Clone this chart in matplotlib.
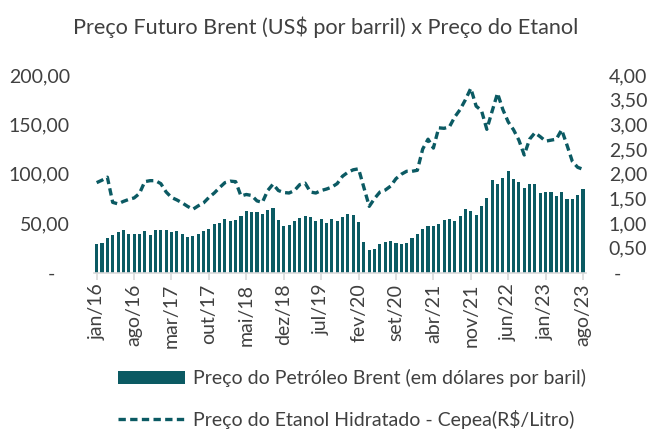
import matplotlib
matplotlib.use("Agg")
import matplotlib.pyplot as plt
from matplotlib.patches import Patch
from matplotlib.lines import Line2D
import numpy as np

plt.rcParams['font.family'] = ['Lato', 'DejaVu Sans']

month_abbr = ["jan", "fev", "mar", "abr", "mai", "jun", "jul", "ago", "set", "out", "nov", "dez"]
months = [f"{month_abbr[m]}/{str(y)[2:]}" for y in range(2016, 2024) for m in range(12)][:92]

brent = [29.3, 30.0, 35.0, 37.7, 41.4, 42.8, 39.4, 39.4, 39.4, 42.4, 38.0, 43.4,
         43.4, 43.4, 41.0, 41.7, 39.4, 36.0, 37.4, 39.4, 42.4, 44.4, 48.8, 50.2,
         54.5, 52.2, 52.9, 57.6, 62.6, 61.6, 61.6, 59.6, 63.6, 65.3, 53.5, 46.8,
         48.5, 51.9, 54.9, 57.6, 56.2, 51.9, 54.2, 50.5, 54.2, 52.5, 55.9, 58.9,
         58.6, 51.5, 31.3, 22.6, 23.6, 29.3, 31.3, 32.3, 29.6, 29.0, 30.3, 35.0,
         38.7, 44.1, 47.5, 47.1, 49.5, 53.5, 54.5, 52.2, 56.9, 64.0, 62.3, 58.6,
         67.0, 75.4, 93.9, 89.9, 96.0, 103.0, 94.9, 91.6, 85.9, 89.9, 89.2, 80.1,
         81.8, 81.1, 77.1, 81.8, 74.1, 74.1, 78.5, 84.8]

etanol = [1.82, 1.87, 1.93, 1.42, 1.39, 1.44, 1.48, 1.51, 1.60, 1.84, 1.86, 1.86,
          1.80, 1.63, 1.52, 1.47, 1.41, 1.34, 1.28, 1.35, 1.41, 1.52, 1.61, 1.72,
          1.82, 1.85, 1.84, 1.55, 1.58, 1.56, 1.45, 1.42, 1.66, 1.79, 1.66, 1.62,
          1.61, 1.66, 1.78, 1.81, 1.63, 1.61, 1.66, 1.69, 1.73, 1.80, 1.95, 2.03,
          2.08, 2.10, 1.72, 1.34, 1.50, 1.63, 1.67, 1.75, 1.90, 1.99, 2.05, 2.05,
          2.07, 2.50, 2.70, 2.52, 2.93, 2.92, 2.95, 3.15, 3.30, 3.50, 3.73, 3.37,
          3.28, 2.90, 3.27, 3.63, 3.30, 3.05, 2.89, 2.68, 2.38, 2.70, 2.83, 2.75,
          2.66, 2.68, 2.70, 2.89, 2.58, 2.25, 2.13, 2.09]

left_ticks = [0, 50, 100, 150, 200]
left_labels = ["-   ", "50,00", "100,00", "150,00", "200,00"]
right_ticks = [0, 0.5, 1.0, 1.5, 2.0, 2.5, 3.0, 3.5, 4.0]
right_labels = [" -", "0,50", "1,00", "1,50", "2,00", "2,50", "3,00", "3,50", "4,00"]

title = "Preço Futuro Brent (US$ por barril) x Preço do Etanol"
label_brent = "Preço do Petróleo Brent (em dólares por baril)"
label_etanol = "Preço do Etanol Hidratado - Cepea(R$/Litro)"

color = "#0b5a63"
text_color = "#404040"
fs = 14

fig = plt.figure(figsize=(6.51, 4.30), dpi=100)
ax = fig.add_axes([94/651, 1-272.5/430, 491.7/651, (272.5-75)/430])
ax2 = ax.twinx()

x = np.arange(len(months))
ax.bar(x, brent, width=0.58, color=color, zorder=2)
dash = (0, (2.2, 1.3))
ax2.plot(x, etanol, color=color, lw=2.4, linestyle=dash, zorder=3)

ax.set_xlim(-0.5, len(months) - 0.5)
ax.set_ylim(0, 200)
ax2.set_ylim(0, 4)

ax.set_yticks(left_ticks)
ax.set_yticklabels(left_labels)
ax2.set_yticks(right_ticks)
ax2.set_yticklabels(right_labels)

tick_pos = list(range(0, len(months), 7))
ax.set_xticks(tick_pos)
ax.set_xticklabels([months[i] for i in tick_pos], rotation=90)

for a in (ax, ax2):
    for s in a.spines.values():
        s.set_visible(False)
ax.spines['bottom'].set_visible(True)
ax.spines['bottom'].set_color("#d9d9d9")
ax.spines['bottom'].set_linewidth(1.2)

ax.tick_params(axis='x', colors="#d9d9d9", length=5, width=1.2, labelcolor=text_color,
               labelsize=fs, pad=3)
ax.tick_params(axis='y', length=0, labelcolor=text_color, labelsize=fs, pad=17.3)
ax2.tick_params(axis='y', length=0, labelcolor=text_color, labelsize=fs, pad=16.6)

fig.text(0.5, 1-27/430, title, ha='center', va='center', fontsize=15.6, color=text_color)

handles = [Patch(facecolor=color, edgecolor='none'),
           Line2D([0], [0], color=color, lw=2.4, linestyle=dash)]
leg = fig.legend(handles, [label_brent, label_etanol], loc='center left',
                 bbox_to_anchor=(100.5/651, 1-399/430), frameon=False, fontsize=fs,
                 handlelength=3.45, handleheight=0.65, labelspacing=1.16, handletextpad=0.4)
for t in leg.get_texts():
    t.set_color(text_color)

fig.savefig("out.png", dpi=100)
